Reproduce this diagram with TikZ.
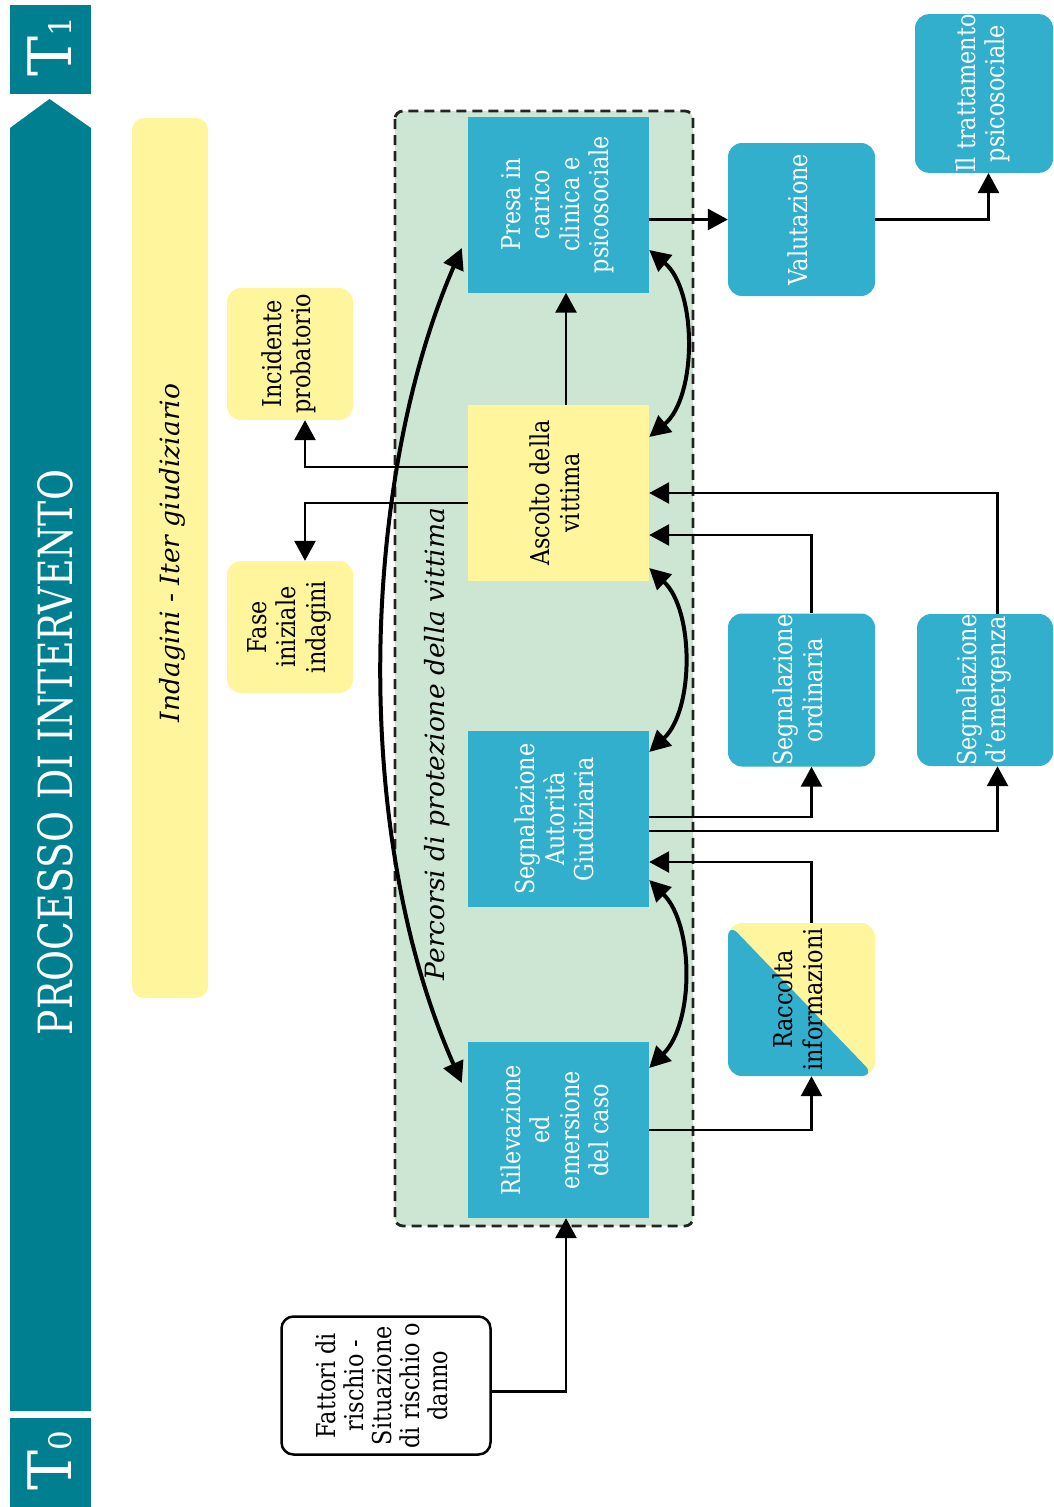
\documentclass[tikz,border=0pt]{standalone}
\usepackage{fontspec}
\setmainfont{DejaVu Serif}[FakeStretch=0.86]
\newfontfamily\plainserif{DejaVu Serif}
\usetikzlibrary{arrows.meta,calc}
\definecolor{tealband}{RGB}{0,127,145}
\definecolor{boxblue}{RGB}{50,175,205}
\definecolor{softyellow}{RGB}{255,245,157}
\definecolor{softgreen}{RGB}{205,230,212}
\definecolor{dashgray}{RGB}{35,35,35}
\newcommand{\rt}[1]{\rotatebox{90}{\begin{tabular}{@{}c@{}}#1\end{tabular}}}
\tikzset{
  base/.style={inner sep=0pt, font=\fontsize{26}{29.5}\selectfont, align=center},
  bluesq/.style={base, fill=boxblue, text=white},
  bluernd/.style={bluesq, rounded corners=14pt},
  yelsq/.style={base, fill=softyellow, text=black},
  yelrnd/.style={yelsq, rounded corners=14pt},
  mainbox/.style={minimum width=181pt, minimum height=176pt},
  sidebox/.style={minimum width=147pt, minimum height=153pt},
  conn/.style={line width=2.8pt, -{Triangle[length=20pt,width=21pt]}},
  bicurve/.style={line width=4pt, {Triangle[length=21pt,width=21pt]}-{Triangle[length=21pt,width=21pt]}},
  rotlabel/.style={rotate=90, inner sep=0pt},
  itlabel/.style={rotlabel, font=\plainserif\fontsize{26.5}{30}\selectfont\itshape},
}
\begin{document}
\begin{tikzpicture}[x=1pt,y=-1pt]
\useasboundingbox (0,0) rectangle (1053,1507);
% timeline band
\fill[tealband] (10,128) -- (49.5,99) -- (91,128) -- (91,1411) -- (10,1411) -- cycle;
\fill[tealband] (10,5) rectangle (91,94);
\fill[tealband] (10,1418) rectangle (91,1507);
\node[rotlabel, text=white, font=\plainserif] (t1) at (50,47) {\fontsize{60}{60}\selectfont T\fontsize{31}{31}\selectfont 1};
\node[rotlabel, text=white, font=\plainserif] (t0) at (50,1461) {\fontsize{60}{60}\selectfont T\fontsize{31}{31}\selectfont 0};
\node[rotlabel, text=white, font=\plainserif] (title) at (55.5,752.5) {\resizebox{565pt}{35pt}{PROCESSO DI INTERVENTO}};
% judicial bar
\fill[softyellow, rounded corners=12pt] (132,118) rectangle (208,998);
\node[itlabel] (indag) at (172,553) {Indagini - Iter giudiziario};
% protection container
\draw[fill=softgreen, draw=dashgray, line width=2.8pt, dash pattern=on 10pt off 6pt, rounded corners=8pt] (395,111) rectangle (693,1226);
\node[itlabel] (perc) at (437,744) {Percorsi di protezione della vittima};
% main column
\node[bluesq, mainbox] (presa) at (558.5,204.5) {\rt{Presa in\\carico\\clinica e\\psicosociale}};
\node[yelsq, mainbox] (ascolto) at (558.5,493) {\rt{Ascolto della\\vittima}};
\node[bluesq, mainbox] (segn) at (558.5,819) {\rt{Segnalazione\\Autorità\\Giudiziaria}};
\node[bluesq, mainbox] (rilev) at (558.5,1130) {\rt{Rilevazione\\ed\\emersione\\del caso}};
% right side
\node[bluernd, sidebox] (valut) at (801.5,219.5) {\rt{Valutazione}};
\node[bluernd, minimum width=138pt, minimum height=153pt] (tratt) at (984,93.5) {\rt{Il trattamento\\psicosociale}};
\node[bluernd, sidebox] (ord) at (801.5,690) {\rt{Segnalazione\\ordinaria}};
\node[bluernd, minimum width=136pt, minimum height=152pt] (emerg) at (985,690) {\rt{Segnalazione\\d’emergenza}};
\node[yelrnd, sidebox, path picture={\fill[boxblue] (path picture bounding box.north west) -- (path picture bounding box.south west) -- (path picture bounding box.south east) -- cycle;}] (racc) at (801.5,999.5) {\rt{Raccolta\\informazioni}};
% left side
\node[yelrnd, minimum width=126pt, minimum height=132pt] (incid) at (290,354) {\rt{Incidente\\probatorio}};
\node[yelrnd, minimum width=126pt, minimum height=132pt] (fase) at (290,627) {\rt{Fase\\iniziale\\indagini}};
\node[base, draw=black, line width=2.5pt, fill=white, rounded corners=12pt, minimum width=209pt, minimum height=138pt, font=\fontsize{26}{28}\selectfont] (fattori) at (386,1385.5) {\rt{Fattori di\\rischio -\\Situazione\\di rischio o\\danno}};
% connectors
\draw[conn] ([yshift=-6pt]fattori.east) -| ([xshift=7.5pt]rilev.south);
\draw[conn] (rilev.east) -| ([xshift=10pt]racc.south);
\draw[conn] ([xshift=10pt]racc.north) |- ([yshift=-43pt]segn.east);
\draw[conn] ([yshift=2pt]segn.east) -| ([xshift=10pt]ord.south);
\draw[conn] ([yshift=-12pt]segn.east) -| ([xshift=12.5pt]emerg.south);
\draw[conn] ([xshift=10pt]ord.north) |- ([yshift=-42pt]ascolto.east);
\draw[conn] ([xshift=12.5pt]emerg.north) |- (ascolto.east);
\draw[conn] ([xshift=7.5pt]ascolto.north) -- ([xshift=7.5pt]presa.south);
\draw[conn] ([yshift=26pt]ascolto.west) -| ([xshift=15pt]incid.south);
\draw[conn] ([yshift=-10pt]ascolto.west) -| ([xshift=15pt]fase.north);
\draw[conn] (presa.east |- valut.west) -- (valut.west);
\draw[conn] (valut.east) -| ([xshift=4.5pt]tratt.south);
% curved two-way links
\draw[bicurve] ([yshift=-45.5pt]presa.east) .. controls +(48,40) and +(48,-40) .. ([yshift=56pt]ascolto.east);
\draw[bicurve] ([yshift=-75pt]ascolto.east) .. controls +(45,42) and +(45,-42) .. ([yshift=67pt]segn.east);
\draw[bicurve] ([yshift=-61pt]segn.east) .. controls +(45,45) and +(45,-45) .. ([yshift=62pt]rilev.east);
\draw[bicurve] ([xshift=-6pt,yshift=-43.5pt]presa.west) .. controls +(-100,230) and +(-112,-253) .. ([xshift=-6pt,yshift=47pt]rilev.west);
\end{tikzpicture}
\end{document}
